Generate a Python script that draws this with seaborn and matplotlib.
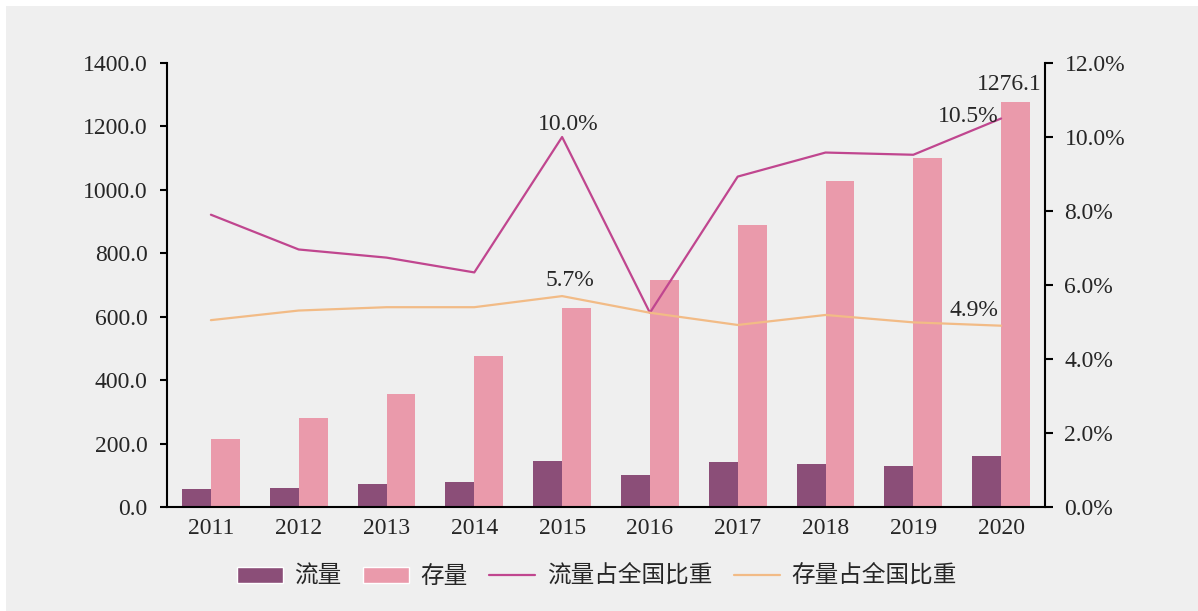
import numpy as np
import pandas as pd
import seaborn as sns
import matplotlib.pyplot as plt
from matplotlib.patches import Patch, Rectangle
from matplotlib.lines import Line2D
from matplotlib.ticker import FuncFormatter, MultipleLocator

years = ['2011', '2012', '2013', '2014', '2015', '2016', '2017', '2018', '2019', '2020']
flow = [57, 60, 72, 78, 145, 101, 141, 136, 129, 160]
stock = [214, 282, 356, 476, 627, 716, 889, 1028, 1099, 1276.1]
flow_share = [7.9, 6.96, 6.74, 6.34, 10.0, 5.25, 8.93, 9.58, 9.52, 10.5]
stock_share = [5.05, 5.31, 5.40, 5.40, 5.7, 5.25, 4.92, 5.19, 4.99, 4.9]

c_flow = '#8b4e78'
c_stock = '#ea9aab'
c_flow_line = '#c0468f'
c_stock_line = '#f2bb86'
fs = 17

sns.set_style('white')
plt.rcParams['font.family'] = ['Liberation Serif', 'Noto Sans CJK SC']

df = pd.DataFrame({'年份': years * 2,
                   '数值': flow + stock,
                   '类型': ['流量'] * len(years) + ['存量'] * len(years)})

fig = plt.figure(figsize=(11.98, 6.11), dpi=100, facecolor='white')
# 灰色背景面板
fig.patches.append(Rectangle((6 / 1198, 0), 1, 1 - 6 / 611, transform=fig.transFigure,
                             facecolor='#efefef', edgecolor='none', zorder=-10))

ax = fig.add_axes([167 / 1198, 1 - 507 / 611, (1045 - 167) / 1198, (507 - 63) / 611])
ax.set_facecolor('none')
sns.barplot(data=df, x='年份', y='数值', hue='类型', palette=[c_flow, c_stock],
            width=0.66, saturation=1, linewidth=0, legend=False, ax=ax)

ax2 = ax.twinx()
x = np.arange(len(years))
sns.lineplot(x=x, y=flow_share, color=c_flow_line, lw=1.6, ax=ax2)
sns.lineplot(x=x, y=stock_share, color=c_stock_line, lw=1.6, ax=ax2)

ax.set_xlim(-0.5, len(years) - 0.5)
ax.set_ylim(0, 1400)
ax2.set_ylim(0, 12)
ax.set_xlabel('')
ax.set_ylabel('')
ax2.set_ylabel('')

ax.yaxis.set_major_locator(MultipleLocator(200))
ax.yaxis.set_major_formatter(FuncFormatter(lambda v, p: f'{v:.1f}'))
ax2.yaxis.set_major_locator(MultipleLocator(2))
ax2.yaxis.set_major_formatter(FuncFormatter(lambda v, p: f'{v:.1f}%'))

ax.set_xticks(x)
ax.set_xticklabels(years)
ax.set_xticks(np.arange(-0.5, len(years)), minor=True)
ax.tick_params(axis='x', which='major', length=0, pad=8, labelsize=fs)
ax.tick_params(axis='x', which='minor', length=4.5, width=1.5, direction='out', color='black')
ax.tick_params(axis='y', length=5, width=1.5, direction='out', color='black', labelsize=fs, pad=9)
ax2.tick_params(axis='y', length=6, width=1.5, direction='out', color='black', labelsize=fs, pad=8)

for s in ['top', 'right']:
    ax.spines[s].set_visible(False)
for s in ['top', 'left', 'bottom']:
    ax2.spines[s].set_visible(False)
for a, s in [(ax, 'left'), (ax, 'bottom'), (ax2, 'right')]:
    a.spines[s].set_color('black')
    a.spines[s].set_linewidth(1.5)

# 数据标签
ax2.annotate('10.0%', xy=(4, flow_share[4]), xytext=(6, 7), textcoords='offset pixels',
             ha='center', va='baseline', fontsize=fs)
ax2.annotate('5.7%', xy=(4, stock_share[4]), xytext=(8, 10), textcoords='offset pixels',
             ha='center', va='baseline', fontsize=fs)
ax2.annotate('10.5%', xy=(9, flow_share[9]), xytext=(-3, -3), textcoords='offset pixels',
             ha='right', va='baseline', fontsize=fs)
ax2.annotate('4.9%', xy=(9, stock_share[9]), xytext=(-3, 10), textcoords='offset pixels',
             ha='right', va='baseline', fontsize=fs)
ax.annotate(f'{stock[9]:.1f}', xy=(9.165, stock[9]), xytext=(-6, 12), textcoords='offset pixels',
            ha='center', va='baseline', fontsize=fs)

handles = [Patch(facecolor=c_flow, label='流量'),
           Patch(facecolor=c_stock, label='存量'),
           Line2D([], [], color=c_flow_line, lw=1.6, label='流量占全国比重'),
           Line2D([], [], color=c_stock_line, lw=1.6, label='存量占全国比重')]
fig.legend(handles=handles, loc='center', bbox_to_anchor=(0.498, 1 - 577 / 611), ncol=4,
           frameon=False, fontsize=fs, handlelength=1.95, handleheight=0.68, columnspacing=0.93,
           handletextpad=0.47)

fig.savefig('out.png', dpi=100, facecolor=fig.get_facecolor())
